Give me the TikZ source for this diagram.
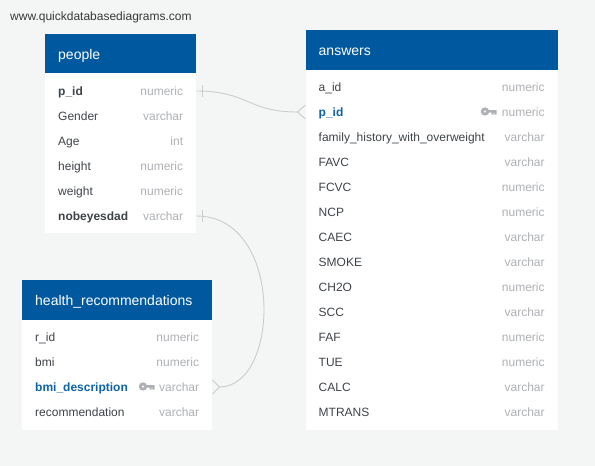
\documentclass[tikz,border=0pt]{standalone}
\usepackage{fontspec}
\setmainfont{Liberation Sans}
\definecolor{bgc}{HTML}{F4F6F6}
\definecolor{headc}{HTML}{00599E}
\definecolor{keyc}{HTML}{0F62A6}
\definecolor{namec}{HTML}{3F444A}
\definecolor{typec}{HTML}{AEB1B5}
\definecolor{linec}{HTML}{CBCDCD}
\tikzset{
  x=1pt,y=-1pt,
  tablebody/.style={fill=white,draw=none,inner sep=0pt,anchor=north west},
  tablehead/.style={fill=headc,draw=none,inner sep=0pt,anchor=north west},
  headtext/.style={text=white,font=\fontsize{14}{16}\selectfont,inner sep=0pt,anchor=base west},
  rowbox/.style={inner sep=0pt,minimum height=25pt,anchor=west,draw=none},
  colname/.style={text=namec,font=\fontsize{12}{14}\selectfont,inner sep=0pt,anchor=base west},
  colbold/.style={colname,font=\fontsize{12}{14}\selectfont\bfseries},
  colkey/.style={colbold,text=keyc},
  coltype/.style={text=typec,font=\fontsize{12}{14}\selectfont,inner sep=0pt,anchor=base east},
  rel/.style={draw=linec,line width=0.9pt},
  keyicon/.style={fill=typec,draw=none},
}
% name, table x, table width, y, label, type, label style
\newcommand{\trow}[7]{%
  \node[rowbox,minimum width=#3 pt] (#1) at (#2,#4) {};
  \node[#7] (#1-n) at ($(#2,#4)+(13,4)$) {#5};
  \node[coltype] (#1-t) at ($(#2+#3,#4)+(-12.7,4)$) {#6};
}
\newcommand{\keyglyph}[2]{%
  \path[keyicon,even odd rule] (#1,#2) circle[radius=4.2] (#1,#2) circle[radius=1.3];
  \path[keyicon] (#1+3,#2-1.3) rectangle (#1+11.5,#2+1.2) (#1+6.5,#2) rectangle (#1+8.6,#2+3) (#1+9.4,#2) rectangle (#1+11.5,#2+3);
}
\usetikzlibrary{calc}
\begin{document}
\begin{tikzpicture}
\useasboundingbox (0,0) rectangle (595,466);
\fill[bgc] (0,0) rectangle (595,466);
\node[text=black!78,font=\fontsize{12}{14}\selectfont,inner sep=0pt,anchor=base west] (site) at (10,20) {www.quickdatabasediagrams.com};

% people
\node[tablebody,minimum width=151pt,minimum height=199.5pt] (people) at (45,33.5) {};
\node[tablehead,minimum width=151pt,minimum height=39.5pt] (peopleh) at (45,33.5) {};
\node[headtext] (peoplet) at (58,59) {people};
\trow{ppid}{45}{151}{91}{p\_id}{numeric}{colbold}
\trow{pgender}{45}{151}{116}{Gender}{varchar}{colname}
\trow{page}{45}{151}{141}{Age}{int}{colname}
\trow{pheight}{45}{151}{166}{height}{numeric}{colname}
\trow{pweight}{45}{151}{191}{weight}{numeric}{colname}
\trow{pnob}{45}{151}{216}{nobeyesdad}{varchar}{colbold}

% answers
\node[tablebody,minimum width=252pt,minimum height=400pt] (answers) at (305.5,30) {};
\node[tablehead,minimum width=252pt,minimum height=40pt] (answersh) at (305.5,30) {};
\node[headtext] (answerst) at (318.5,55) {answers};
\trow{aaid}{305.5}{252}{87}{a\_id}{numeric}{colname}
\trow{apid}{305.5}{252}{112}{p\_id}{numeric}{colkey}
\trow{afam}{305.5}{252}{137}{family\_history\_with\_overweight}{varchar}{colname}
\trow{afavc}{305.5}{252}{162}{FAVC}{varchar}{colname}
\trow{afcvc}{305.5}{252}{187}{FCVC}{numeric}{colname}
\trow{ancp}{305.5}{252}{212}{NCP}{numeric}{colname}
\trow{acaec}{305.5}{252}{237}{CAEC}{varchar}{colname}
\trow{asmoke}{305.5}{252}{262}{SMOKE}{varchar}{colname}
\trow{ach}{305.5}{252}{287}{CH2O}{numeric}{colname}
\trow{ascc}{305.5}{252}{312}{SCC}{varchar}{colname}
\trow{afaf}{305.5}{252}{337}{FAF}{numeric}{colname}
\trow{atue}{305.5}{252}{362}{TUE}{numeric}{colname}
\trow{acalc}{305.5}{252}{387}{CALC}{varchar}{colname}
\trow{amtrans}{305.5}{252}{412}{MTRANS}{varchar}{colname}
\keyglyph{485}{111.5}

% health_recommendations
\node[tablebody,minimum width=190pt,minimum height=150pt] (health) at (22,280) {};
\node[tablehead,minimum width=190pt,minimum height=40pt] (healthh) at (22,280) {};
\node[headtext] (healtht) at (35,305) {health\_recommendations};
\trow{hrid}{22}{190}{337}{r\_id}{numeric}{colname}
\trow{hbmi}{22}{190}{362}{bmi}{numeric}{colname}
\trow{hdesc}{22}{190}{387}{bmi\_description}{varchar}{colkey}
\trow{hrec}{22}{190}{412}{recommendation}{varchar}{colname}
\keyglyph{143}{386.5}

% relations
\coordinate (forka) at ($(apid.west)+(-8,0)$);
\coordinate (forkh) at ($(hdesc.east)+(7,0)$);
\draw[rel] (ppid.east) .. controls ($(ppid.east)+(52,0)$) and ($(forka)+(-50,0)$) .. (forka);
\draw[rel] ($(apid.west)+(0,-7)$) -- (forka) -- ($(apid.west)+(0,7)$);
\draw[rel] ($(ppid.east)+(6.5,-6)$) -- ($(ppid.east)+(6.5,6)$);
\draw[rel] (pnob.east) .. controls ($(pnob.east)+(88,0)$) and ($(forkh)+(61,0)$) .. (forkh);
\draw[rel] ($(hdesc.east)+(0,-7)$) -- (forkh) -- ($(hdesc.east)+(0,7)$);
\draw[rel] ($(pnob.east)+(6.5,-6)$) -- ($(pnob.east)+(6.5,6)$);
\end{tikzpicture}
\end{document}
